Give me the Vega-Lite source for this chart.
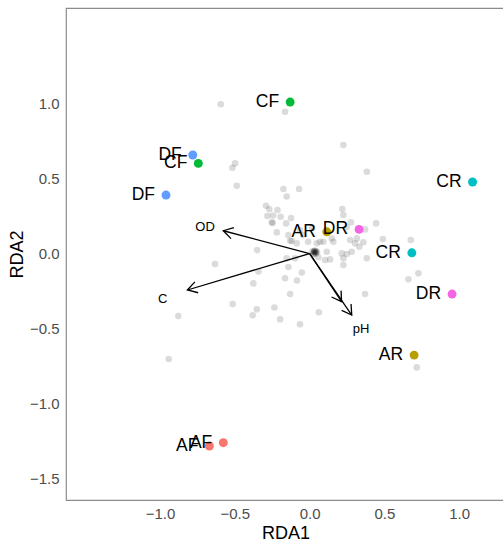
{
  "$schema": "https://vega.github.io/schema/vega-lite/v6.json",
  "width": 439,
  "height": 492,
  "autosize": "none",
  "padding": {"left": 66, "top": 8, "right": 0, "bottom": 43},
  "background": "white",
  "config": {
    "view": {"stroke": "#8c8c8c", "strokeWidth": 1.2},
    "font": "Liberation Sans",
    "axis": {
      "grid": false,
      "ticks": false,
      "domain": false,
      "labelFontSize": 15,
      "labelColor": "#4d4d4d",
      "titleFontSize": 18,
      "titleFontWeight": "normal",
      "titleColor": "#000000"
    }
  },
  "datasets": {
    "sites": [
      {"x": -0.594, "y": 0.995}, {"x": -0.164, "y": 0.945}, {"x": -0.498, "y": 0.601}, {"x": -0.516, "y": 0.572},
      {"x": -0.487, "y": 0.452}, {"x": 0.226, "y": 0.723}, {"x": 0.383, "y": 0.545}, {"x": -0.175, "y": 0.43},
      {"x": -0.153, "y": 0.38}, {"x": -0.07, "y": 0.43}, {"x": -0.291, "y": 0.319}, {"x": -0.269, "y": 0.295},
      {"x": -0.215, "y": 0.29}, {"x": -0.282, "y": 0.25}, {"x": -0.244, "y": 0.253}, {"x": -0.194, "y": 0.245},
      {"x": -0.124, "y": 0.237}, {"x": -0.253, "y": 0.208}, {"x": -0.247, "y": 0.203}, {"x": -0.157, "y": 0.201},
      {"x": -0.219, "y": 0.141}, {"x": -0.142, "y": 0.123}, {"x": -0.119, "y": 0.083}, {"x": -0.351, "y": 0.023},
      {"x": -0.632, "y": -0.07}, {"x": -0.153, "y": -0.032}, {"x": -0.097, "y": -0.032}, {"x": -0.142, "y": -0.09},
      {"x": -0.052, "y": -0.127}, {"x": -0.342, "y": -0.119}, {"x": -0.164, "y": -0.165}, {"x": -0.084, "y": -0.18},
      {"x": -0.376, "y": -0.199}, {"x": -0.13, "y": -0.27}, {"x": -0.514, "y": -0.337}, {"x": -0.353, "y": -0.372},
      {"x": -0.38, "y": -0.412}, {"x": -0.235, "y": -0.36}, {"x": -0.197, "y": -0.439}, {"x": -0.064, "y": -0.472},
      {"x": -0.878, "y": -0.417}, {"x": -0.942, "y": -0.703}, {"x": 0.062, "y": -0.392}, {"x": 0.371, "y": -0.27},
      {"x": 0.717, "y": -0.759}, {"x": 0.661, "y": -0.172}, {"x": 0.728, "y": -0.132}, {"x": 0.219, "y": 0.297},
      {"x": 0.226, "y": 0.257}, {"x": 0.276, "y": 0.208}, {"x": 0.445, "y": 0.201}, {"x": 0.249, "y": 0.175},
      {"x": 0.371, "y": 0.161}, {"x": 0.49, "y": 0.097}, {"x": 0.677, "y": 0.09}, {"x": 0.271, "y": 0.09},
      {"x": 0.316, "y": 0.101}, {"x": 0.36, "y": 0.075}, {"x": 0.304, "y": 0.068}, {"x": 0.333, "y": 0.045},
      {"x": 0.159, "y": 0.079}, {"x": 0.148, "y": 0.101}, {"x": 0.092, "y": 0.079}, {"x": 0.048, "y": 0.068},
      {"x": 0.215, "y": 0.001}, {"x": 0.249, "y": -0.003}, {"x": 0.282, "y": 0.012}, {"x": 0.226, "y": -0.032},
      {"x": 0.137, "y": -0.039}, {"x": 0.104, "y": -0.043}, {"x": 0.226, "y": -0.077}, {"x": 0.383, "y": -0.032},
      {"x": -0.13, "y": 0.085}, {"x": -0.086, "y": 0.068}, {"x": -0.043, "y": 0.123}, {"x": -0.01, "y": 0.079},
      {"x": 0.07, "y": 0.079}, {"x": 0.115, "y": 0.012}, {"x": 0.059, "y": -0.025}, {"x": -0.064, "y": 0.157},
      {"x": 0.017, "y": 0.17},
      {"x": 0.02, "y": 0.015}, {"x": 0.03, "y": 0.01}, {"x": 0.037, "y": 0.005}, {"x": 0.045, "y": 0.015},
      {"x": 0.025, "y": 0.0}, {"x": 0.05, "y": 0.008}, {"x": 0.035, "y": 0.02}, {"x": 0.03, "y": -0.005},
      {"x": 0.042, "y": 0.0}, {"x": 0.028, "y": 0.012}, {"x": 0.04, "y": 0.01}, {"x": 0.033, "y": 0.016}
    ],
    "groups": [
      {"group": "CF", "x": -0.13, "y": 1.01},
      {"group": "DF", "x": -0.781, "y": 0.657},
      {"group": "CF", "x": -0.744, "y": 0.601},
      {"group": "DF", "x": -0.96, "y": 0.39},
      {"group": "CR", "x": 1.09, "y": 0.477},
      {"group": "AR", "x": 0.115, "y": 0.145},
      {"group": "DR", "x": 0.331, "y": 0.161},
      {"group": "CR", "x": 0.684, "y": 0.005},
      {"group": "DR", "x": 0.953, "y": -0.27},
      {"group": "AR", "x": 0.699, "y": -0.677},
      {"group": "AF", "x": -0.577, "y": -1.261},
      {"group": "AF", "x": -0.67, "y": -1.283}
    ],
    "arrows": [
      {"var": "OD", "x0": 0, "y0": 0, "x": -0.577, "y": 0.152},
      {"var": "C", "x0": 0, "y0": 0, "x": -0.817, "y": -0.243},
      {"var": "pH", "x0": 0, "y0": 0, "x": 0.214, "y": -0.321},
      {"var": "pH", "x0": 0, "y0": 0, "x": 0.282, "y": -0.41}
    ],
    "arrowlabels": [
      {"var": "OD", "x": -0.699, "y": 0.177},
      {"var": "C", "x": -0.983, "y": -0.303},
      {"var": "pH", "x": 0.344, "y": -0.503}
    ]
  },
  "layer": [
    {
      "data": {"name": "sites"},
      "mark": {"type": "circle", "color": "#000000", "opacity": 0.14, "size": 44},
      "encoding": {
        "x": {"field": "x", "type": "quantitative", "scale": {"domain": [-1.629, 1.307], "nice": false, "zero": false},
          "axis": {"values": [-1, -0.5, 0, 0.5, 1], "format": ".1f", "labelPadding": 6, "title": "RDA1", "titlePadding": 3}},
        "y": {"field": "y", "type": "quantitative", "scale": {"domain": [-1.643, 1.637], "nice": false, "zero": false},
          "axis": {"values": [-1.5, -1, -0.5, 0, 0.5, 1], "format": ".1f", "labelPadding": 7, "title": "RDA2", "titlePadding": 3}}
      }
    },
    {
      "data": {"name": "arrows"},
      "mark": {"type": "rule", "color": "#000000", "strokeWidth": 1.3},
      "encoding": {
        "x": {"field": "x0", "type": "quantitative"},
        "y": {"field": "y0", "type": "quantitative"},
        "x2": {"field": "x"},
        "y2": {"field": "y"}
      }
    },
    {
      "data": {"name": "arrows"},
      "transform": [{"calculate": "atan2(-datum.y, datum.x) * 180 / PI", "as": "ang"}],
      "mark": {"type": "point", "shape": "M-1,-0.6L0,0L-1,0.6", "filled": false, "color": "#000000", "strokeWidth": 1.3, "opacity": 1, "size": 360},
      "encoding": {
        "x": {"field": "x", "type": "quantitative"},
        "y": {"field": "y", "type": "quantitative"},
        "angle": {"field": "ang", "type": "quantitative", "scale": null}
      }
    },
    {
      "data": {"name": "arrowlabels"},
      "mark": {"type": "text", "fontSize": 13, "color": "#000000", "align": "center", "baseline": "middle"},
      "encoding": {
        "x": {"field": "x", "type": "quantitative"},
        "y": {"field": "y", "type": "quantitative"},
        "text": {"field": "var"}
      }
    },
    {
      "data": {"name": "groups"},
      "mark": {"type": "circle", "size": 80, "opacity": 1},
      "encoding": {
        "x": {"field": "x", "type": "quantitative"},
        "y": {"field": "y", "type": "quantitative"},
        "color": {"field": "group", "type": "nominal",
          "scale": {"domain": ["AF", "AR", "CF", "CR", "DF", "DR"], "range": ["#F8766D", "#B79F00", "#00BA38", "#00BFC4", "#619CFF", "#F564E3"]},
          "legend": null}
      }
    },
    {
      "data": {"name": "groups"},
      "mark": {"type": "text", "fontSize": 17.5, "color": "#000000", "align": "right", "baseline": "middle", "dx": -11},
      "encoding": {
        "x": {"field": "x", "type": "quantitative"},
        "y": {"field": "y", "type": "quantitative"},
        "text": {"field": "group"}
      }
    }
  ]
}
